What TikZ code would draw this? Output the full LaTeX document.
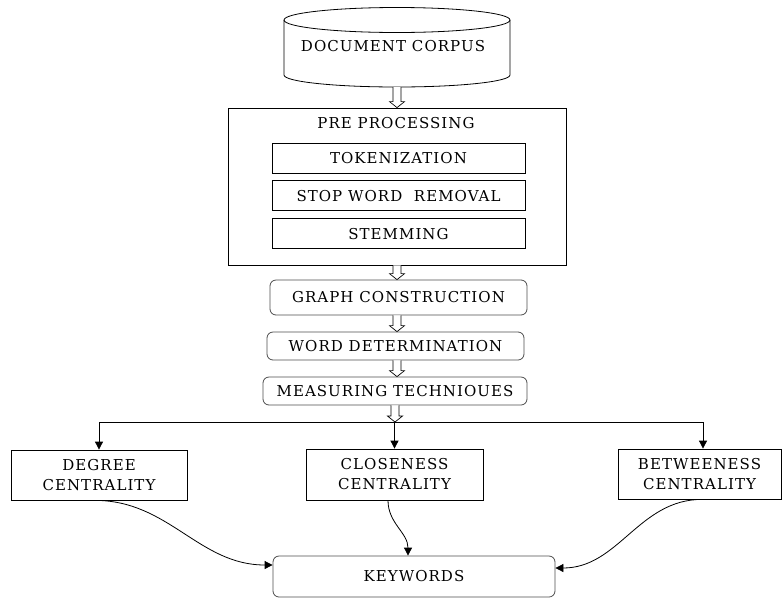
\documentclass[tikz,border=0pt]{standalone}
\usepackage{fontspec}
\setmainfont[LetterSpace=7]{DejaVu Serif}
\usepackage{tikz}
\usetikzlibrary{arrows.meta,calc,positioning}

\tikzset{
  plainbox/.style={draw, line width=0.8pt, inner sep=0pt, align=center},
  softbox/.style={plainbox, rounded corners=6pt, draw=black!70},
  tip/.style={-{Triangle[length=8pt,width=8pt]}, line width=0.8pt},
}
% hollow block arrow, from #1 straight down to #2
\newcommand{\hollowarrow}[2]{%
  \draw[line width=0.7pt, fill=white] let \p1=(#1), \p2=(#2) in
    (\x1-4pt,\y1) -- (\x1-4pt,\y2+6pt) -- (\x1-7.5pt,\y2+6pt) -- (\x1,\y2)
    -- (\x1+7.5pt,\y2+6pt) -- (\x1+4pt,\y2+6pt) -- (\x1+4pt,\y1);
}

\begin{document}
\begin{tikzpicture}[x=1pt, y=-1pt, font=\fontsize{15}{20}\selectfont]
    \useasboundingbox (0,0) rectangle (782,598);

    % Corpus (cylinder)
    \draw[line width=0.8pt] (397,20) ellipse [x radius=113pt, y radius=12.5pt];
    \draw[line width=0.8pt] (284,20) -- (284,75) arc [start angle=180, end angle=360, x radius=113pt, y radius=12pt] -- (510,20);
    \node (corpus) at (393,46) {DOCUMENT CORPUS};
    \coordinate (corpusbot) at (397,87);

    % Pre processing
    \node[plainbox, minimum width=338pt, minimum height=157pt] (prep) at (397,186.5) {};
    \node (preptitle) at (396,123) {PRE PROCESSING};
    \node[plainbox, minimum width=253pt, minimum height=30pt] (token) at (398.5,158) {TOKENIZATION};
    \node[plainbox, minimum width=253pt, minimum height=30pt, below=7pt of token] (stopword) {STOP WORD~~REMOVAL};
    \node[plainbox, minimum width=253pt, minimum height=30pt, below=7pt of stopword] (stem) {STEMMING};

    % Graph steps
    \node[softbox, minimum width=257pt, minimum height=35pt] (graph) at (398.5,297.5) {GRAPH CONSTRUCTION};
    \node[softbox, minimum width=257pt, minimum height=28pt] (word) at (395.5,346) {WORD DETERMINATION};
    \node[softbox, minimum width=264pt, minimum height=28pt] (measure) at (395,391) {MEASURING TECHNIOUES};
    \coordinate (split) at (395,422);

    % Centralities
    \node[plainbox, minimum width=176pt, minimum height=50pt] (degree) at (99,475) {DEGREE\\CENTRALITY};
    \node[plainbox, minimum width=177pt, minimum height=51pt] (close) at (394.5,474.5) {CLOSENESS\\CENTRALITY};
    \node[plainbox, minimum width=163pt, minimum height=50pt] (between) at (699.5,474) {BETWEENESS\\CENTRALITY};
    \node[softbox, minimum width=282pt, minimum height=41pt] (keywords) at (414,576.5) {KEYWORDS};

    % Branches
    \draw[tip] (split) -| (degree.north);
    \draw[tip] (split) -| ([xshift=3.5pt]between.north);
    \draw[tip] (split -| close.north) -- (close.north);

    % Hollow arrows
    \hollowarrow{corpusbot}{prep.north}
    \hollowarrow{prep.south}{graph.north}
    \hollowarrow{graph.south -| prep.south}{word.north -| prep.south}
    \hollowarrow{word.south -| prep.south}{measure.north -| prep.south}
    \hollowarrow{measure.south}{split}

    % Into keywords
    \draw[tip] ([xshift=-4pt]degree.south) to[out=0, in=180] ([yshift=11.5pt]keywords.west);
    \draw[tip] ([xshift=-6.5pt]close.south) to[out=-90, in=90] ([xshift=-6pt]keywords.north);
    \draw[tip] ([xshift=2.5pt]between.south) to[out=180, in=0] ([yshift=8.5pt]keywords.east);
\end{tikzpicture}
\end{document}
